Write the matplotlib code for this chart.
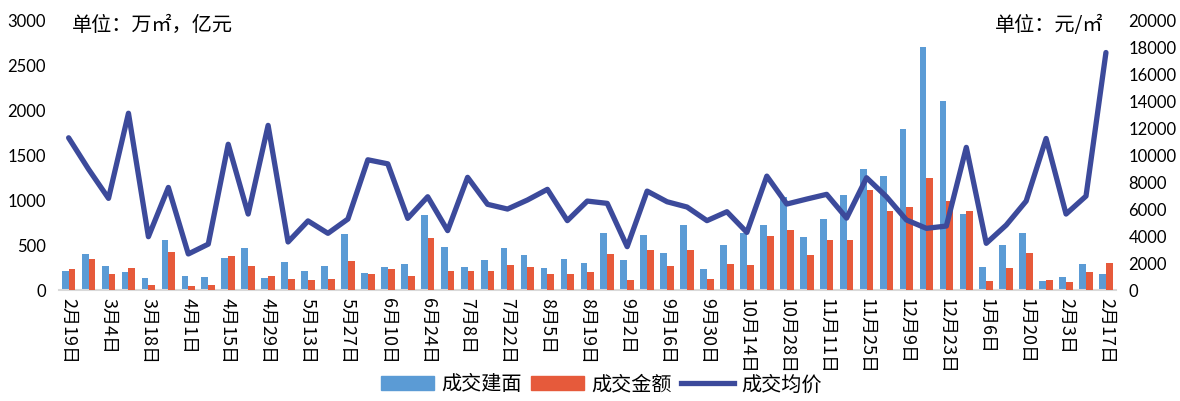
import matplotlib
matplotlib.use('Agg')
from matplotlib import pyplot as plt
from matplotlib.patches import Patch
from matplotlib.lines import Line2D
import numpy as np

# labels every second week
tick_labels = ['2月19日', '3月4日', '3月18日', '4月1日', '4月15日', '4月29日', '5月13日',
               '5月27日', '6月10日', '6月24日', '7月8日', '7月22日', '8月5日', '8月19日',
               '9月2日', '9月16日', '9月30日', '10月14日', '10月28日', '11月11日', '11月25日',
               '12月9日', '12月23日', '1月6日', '1月20日', '2月3日', '2月17日']

# 成交建面 (万㎡)
area = [211, 396, 267, 196, 130, 552, 159, 144, 359, 470, 133, 313, 209, 272,
        622, 187, 254, 289, 833, 478, 256, 331, 467, 385, 241, 341, 304, 637,
        330, 615, 415, 722, 233, 500, 630, 722, 1037, 589, 789, 1052, 1344, 1263,
        1787, 2704, 2096, 841, 259, 500, 630, 104, 144, 285, 181]

# 成交金额 (亿元)
amount = [232, 344, 182, 248, 54, 417, 44, 52, 380, 268, 160, 119, 106, 119,
          324, 182, 233, 152, 578, 211, 211, 207, 274, 252, 174, 174, 196, 404,
          107, 444, 267, 444, 122, 289, 274, 604, 667, 389, 552, 559, 1111, 881,
          922, 1241, 989, 874, 96, 241, 411, 111, 85, 196, 304]

# 成交均价 (元/㎡)
price = [11280, 8950, 6790, 13100, 3950, 7600, 2670, 3400, 10800, 5630, 12200,
         3560, 5120, 4200, 5260, 9650, 9350, 5310, 6910, 4400, 8350, 6350, 6000,
         6670, 7460, 5140, 6590, 6420, 3210, 7330, 6540, 6150, 5140, 5800, 4270,
         8440, 6370, 6740, 7090, 5330, 8320, 6910, 5190, 4570, 4740, 10570, 3460,
         4810, 6590, 11230, 5630, 6960, 17600]

cjk = ['Noto Sans CJK SC', 'DejaVu Sans']
num_font = 'Lato'

c_blue = '#5B9BD5'
c_red = '#E65A3B'
c_line = '#3C4A9B'

x = np.arange(len(area))
w = 0.34

fig = plt.figure(figsize=(11.8, 4.01), dpi=100)
ax = fig.add_axes([0.0497, 0.2768, 0.896, 0.673])
ax2 = ax.twinx()

ax.bar(x - w / 2, area, width=w, color=c_blue, zorder=2)
ax.bar(x + w / 2, amount, width=w, color=c_red, zorder=3)
ax2.plot(x, price, color=c_line, linewidth=3.8, solid_joinstyle='round',
         solid_capstyle='round', zorder=5)

ax.set_xlim(-0.5, len(area) - 0.5)
ax.set_ylim(0, 3000)
ax.set_yticks(np.arange(0, 3001, 500))
ax2.set_ylim(0, 20000)
ax2.set_yticks(np.arange(0, 20001, 2000))

ax.set_xticks(x[::2])
ax.set_xticklabels(tick_labels, rotation=-90, family=cjk, fontsize=13,
                   fontweight='light', ha='center', va='top')
ax.tick_params(axis='x', length=0, pad=6)
ax.tick_params(axis='y', length=0, pad=9)
ax2.tick_params(axis='y', length=0, pad=9)
for lab in ax.get_yticklabels() + ax2.get_yticklabels():
    lab.set_family(num_font)
    lab.set_fontsize(12)

for s in ['top', 'left', 'right']:
    ax.spines[s].set_visible(False)
ax.spines['bottom'].set_color('#D9D9D9')
ax.spines['bottom'].set_linewidth(1.5)
for s in ax2.spines.values():
    s.set_visible(False)

fig.text(72 / 1180, 1 - 25 / 401, '单位：万㎡，亿元', family=cjk, fontsize=14.5,
         fontweight='light', ha='left', va='center')
fig.text(1103 / 1180, 1 - 25 / 401, '单位：元/㎡', family=cjk, fontsize=14.5,
         fontweight='light', ha='right', va='center')

handles = [Patch(color=c_blue), Patch(color=c_red),
           Line2D([], [], color=c_line, linewidth=3.8)]
fig.legend(handles, ['成交建面', '成交金额', '成交均价'], loc='center',
           bbox_to_anchor=(0.51, 0.04), ncol=3, frameon=False,
           prop={'family': cjk, 'size': 14.5, 'weight': 'light'},
           handlelength=2.6, handletextpad=0.4, columnspacing=0.45)

fig.savefig('out.png', dpi=100)
